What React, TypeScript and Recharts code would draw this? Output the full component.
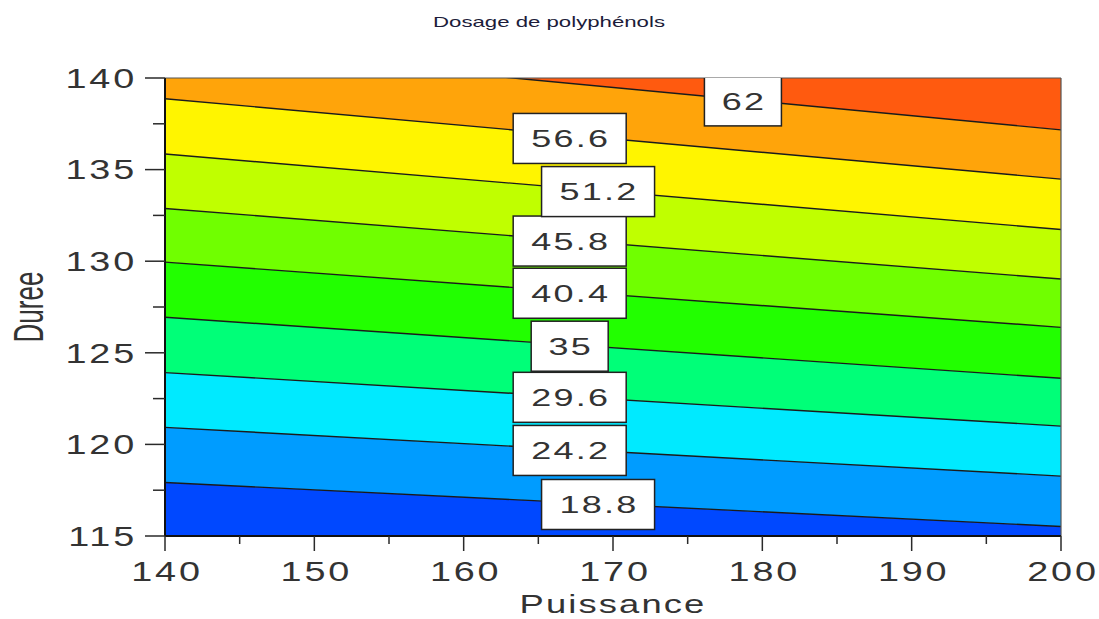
import React from "react";
import {
  ComposedChart,
  Area,
  Line,
  Scatter,
  XAxis,
  YAxis,
  ReferenceLine,
} from "recharts";

// Puissance values at which each iso-line is sampled
const puissance = [140, 200];

// Contour levels of the polyphenol dosage
const contourLevels = [18.8, 24.2, 29.6, 35, 40.4, 45.8, 51.2, 56.6, 62];

// Duree of each iso-line at Puissance = 140 and Puissance = 200
const dureeAt140 = [117.92, 120.93, 123.92, 126.94, 129.95, 132.88, 135.85, 138.87, 141.8];
const dureeAt200 = [115.52, 118.27, 121.0, 123.61, 126.39, 129.03, 131.73, 134.48, 137.17];

// Where each level's tag sits on the plane
const labelPuissance = [169.0, 167.1, 167.1, 167.1, 167.1, 167.1, 169.0, 167.1, 178.7];
const labelDuree = [116.72, 119.67, 122.57, 125.36, 128.25, 131.1, 133.8, 136.7, 138.75];

// Axis ticks (majors carry a label, the rest are minor marks)
const xTicks = [140, 145, 150, 155, 160, 165, 170, 175, 180, 185, 190, 195, 200];
const yTicks = [115, 117.5, 120, 122.5, 125, 127.5, 130, 132.5, 135, 137.5, 140];

const X_MIN = 140;
const X_MAX = 200;
const Y_MIN = 115;
const Y_MAX = 140;

// Fill colours from the lowest band to the highest
const bandColors = [
  "#0048ff",
  "#009cff",
  "#00eaff",
  "#00ff78",
  "#22ff00",
  "#70ff00",
  "#c0ff00",
  "#fff500",
  "#ffa40a",
  "#ff5a0f",
];

const FONT = "'Liberation Sans', Arial, sans-serif";
const INK = "#333333";

const rows = puissance.map((p, i) => {
  const row: Record<string, number> = { x: p };
  contourLevels.forEach((_, k) => {
    row["c" + k] = i === 0 ? dureeAt140[k] : dureeAt200[k];
  });
  return row;
});

const labelPoints = contourLevels.map((level, k) => ({
  x: labelPuissance[k],
  y: labelDuree[k],
  text: String(level),
}));

const bandKey = (band: number) => (d: Record<string, number>) => {
  const lo = band === 0 ? Y_MIN : d["c" + (band - 1)];
  const hi = band === contourLevels.length ? Y_MAX : d["c" + band];
  return [lo, hi];
};

const YTick = (props: any) => {
  const { x, y, payload } = props;
  const major = payload.value % 5 === 0;
  return (
    <g>
      <line x1={x} x2={x - (major ? 20 : 12)} y1={y} y2={y} stroke="#2a2a2a" strokeWidth={1.5} />
      {major && (
        <text
          transform={`translate(${x - 28},${y}) scale(1.4,1)`}
          textAnchor="end"
          dy="0.36em"
          fontFamily={FONT}
          fontSize={27}
          letterSpacing={2}
          fill={INK}
        >
          {payload.value}
        </text>
      )}
    </g>
  );
};

const XTick = (props: any) => {
  const { x, y, payload } = props;
  const major = payload.value % 10 === 0;
  return (
    <g>
      <line x1={x} x2={x} y1={y} y2={y + (major ? 15 : 8)} stroke="#2a2a2a" strokeWidth={1.5} />
      {major && (
        <text
          transform={`translate(${x + 2},${y + 35}) scale(1.4,1)`}
          textAnchor="middle"
          dy="0.36em"
          fontFamily={FONT}
          fontSize={27}
          letterSpacing={2}
          fill={INK}
        >
          {payload.value}
        </text>
      )}
    </g>
  );
};

const LevelTag = (props: any) => {
  const { cx, cy, payload } = props;
  const w = 41 + 18 * payload.text.length;
  const h = 50;
  return (
    <g>
      <rect
        x={cx - w / 2}
        y={cy - h / 2}
        width={w}
        height={h}
        fill="#ffffff"
        stroke="#222"
        strokeWidth={1.5}
      />
      <text
        transform={`translate(${cx + 1},${cy}) scale(1.5,1)`}
        textAnchor="middle"
        dy="0.36em"
        fontFamily={FONT}
        fontSize={24}
        letterSpacing={1.5}
        fill={INK}
      >
        {payload.text}
      </text>
    </g>
  );
};

export default function App() {
  return (
    <div style={{ position: "absolute", left: 0, top: 0, width: 1099, height: 619 }}>
      <ComposedChart
        width={1099}
        height={619}
        data={rows}
        margin={{ top: 78, right: 38, bottom: 23, left: 65 }}
      >
        <XAxis
          type="number"
          dataKey="x"
          domain={[X_MIN, X_MAX]}
          ticks={xTicks}
          allowDataOverflow
          interval={0}
          height={60}
          tickSize={0}
          tickMargin={0}
          tick={<XTick />}
          axisLine={{ stroke: "#111", strokeWidth: 2 }}
        />
        <YAxis
          type="number"
          domain={[Y_MIN, Y_MAX]}
          ticks={yTicks}
          allowDataOverflow
          interval={0}
          width={100}
          tickSize={0}
          tickMargin={0}
          tick={<YTick />}
          axisLine={{ stroke: "#111", strokeWidth: 2 }}
        />
        {bandColors.map((color, band) => (
          <Area
            key={"band" + band}
            type="linear"
            dataKey={bandKey(band)}
            stroke="none"
            fill={color}
            fillOpacity={1}
            isAnimationActive={false}
            activeDot={false}
          />
        ))}
        {contourLevels.map((_, k) => (
          <Line
            key={"iso" + k}
            type="linear"
            dataKey={"c" + k}
            stroke="#1b1b1b"
            strokeWidth={1.4}
            dot={false}
            activeDot={false}
            isAnimationActive={false}
          />
        ))}
        <ReferenceLine y={Y_MAX} stroke="#555" strokeWidth={1.2} />
        <ReferenceLine x={X_MAX} stroke="#555" strokeWidth={1.2} />
        <Scatter
          data={labelPoints}
          dataKey="y"
          shape={<LevelTag />}
          isAnimationActive={false}
        />
      </ComposedChart>
      <svg
        width={1099}
        height={619}
        style={{ position: "absolute", left: 0, top: 0, pointerEvents: "none" }}
      >
        <text
          transform="translate(549,22) scale(1.48,1)"
          textAnchor="middle"
          dy="0.36em"
          fontFamily={FONT}
          fontSize={15}
          fill="#1c1c3a"
        >
          Dosage de polyphénols
        </text>
        <text
          transform="translate(613,604) scale(1.4,1)"
          textAnchor="middle"
          dy="0.36em"
          fontFamily={FONT}
          fontSize={26}
          letterSpacing={1.5}
          fill={INK}
        >
          Puissance
        </text>
        <text
          transform="translate(28,307) rotate(-90) scale(0.62,1)"
          textAnchor="middle"
          dy="0.36em"
          fontFamily={FONT}
          fontSize={42}
          fill={INK}
        >
          Duree
        </text>
      </svg>
    </div>
  );
}
